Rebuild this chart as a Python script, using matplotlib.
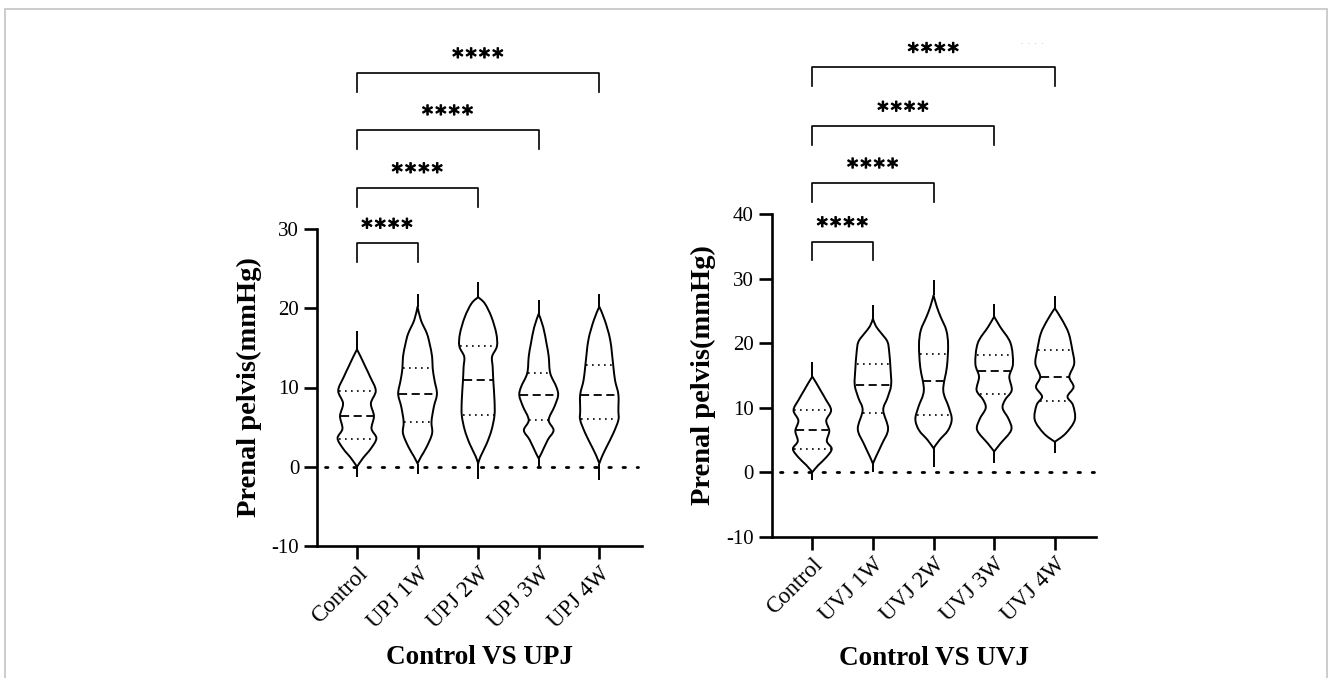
import numpy as np
import matplotlib
matplotlib.use("Agg")
import matplotlib.pyplot as plt
import matplotlib.patheffects as pe
from matplotlib.path import Path
from matplotlib.patches import PathPatch, Rectangle

# ---------------- data ----------------
upj_groups = ["Control", "UPJ 1W", "UPJ 2W", "UPJ 3W", "UPJ 4W"]
uvj_groups = ["Control", "UVJ 1W", "UVJ 2W", "UVJ 3W", "UVJ 4W"]

upj_median = [6.4, 9.2, 10.9, 9.0, 9.1]
upj_q1 = [3.5, 5.7, 6.5, 5.9, 6.0]
upj_q3 = [9.5, 12.4, 15.2, 11.8, 12.8]
upj_min = [-1.3, -0.9, -1.6, 0.0, -1.7]
upj_max = [17.1, 21.8, 23.3, 21.0, 21.8]

uvj_median = [6.5, 13.5, 14.2, 15.7, 14.8]
uvj_q1 = [3.6, 9.2, 8.9, 12.1, 11.1]
uvj_q3 = [9.6, 16.7, 18.3, 18.2, 18.9]
uvj_min = [-1.2, 0.0, 0.8, 1.4, 2.9]
uvj_max = [17.1, 25.9, 29.8, 26.0, 27.3]

# violin density outlines: y levels and half widths (in category units)
control_y = [0.0, 1.1, 2.3, 3.6, 4.8, 6.4, 8.0, 9.6, 11.3, 12.6, 13.9, 14.8]
control_w = [0.0, 0.10, 0.23, 0.32, 0.24, 0.28, 0.23, 0.31, 0.22, 0.14, 0.06, 0.0]

upj1_y = [0.4, 1.3, 2.5, 4.2, 5.7, 7.6, 9.2, 10.9, 12.4, 13.9, 15.5, 16.8, 18.5, 20.2]
upj1_w = [0.0, 0.06, 0.15, 0.24, 0.23, 0.27, 0.32, 0.28, 0.25, 0.24, 0.20, 0.155, 0.055, 0.0]
upj2_y = [0.4, 1.3, 2.9, 4.6, 6.5, 8.4, 10.9, 12.6, 13.9, 15.2, 16.8, 18.9, 20.6, 21.4]
upj2_w = [0.0, 0.04, 0.14, 0.22, 0.27, 0.27, 0.25, 0.24, 0.23, 0.31, 0.30, 0.22, 0.11, 0.0]
upj3_y = [1.05, 1.7, 3.4, 4.6, 5.9, 7.6, 9.0, 10.1, 11.8, 13.9, 15.5, 17.6, 19.3]
upj3_w = [0.0, 0.045, 0.15, 0.245, 0.165, 0.26, 0.32, 0.29, 0.19, 0.165, 0.13, 0.075, 0.0]
upj4_y = [0.4, 1.3, 2.5, 4.2, 5.9, 7.1, 9.1, 10.9, 12.8, 16.0, 18.5, 20.2]
upj4_w = [0.0, 0.045, 0.12, 0.23, 0.315, 0.315, 0.315, 0.26, 0.23, 0.18, 0.09, 0.0]

uvj1_y = [1.3, 2.4, 4.4, 6.7, 9.6, 11.5, 13.5, 16.0, 18.5, 20.2, 21.5, 22.6, 23.8]
uvj1_w = [0.0, 0.05, 0.15, 0.25, 0.17, 0.24, 0.30, 0.29, 0.27, 0.24, 0.14, 0.05, 0.0]
uvj2_y = [3.7, 5.0, 6.5, 8.2, 10.1, 12.7, 16.3, 19.7, 22.0, 24.0, 25.6, 27.4]
uvj2_w = [0.0, 0.10, 0.24, 0.30, 0.25, 0.16, 0.22, 0.24, 0.21, 0.12, 0.055, 0.0]
uvj3_y = [3.2, 4.4, 6.5, 8.2, 9.9, 11.2, 12.7, 14.8, 16.8, 20.0, 22.5, 24.1]
uvj3_w = [0.0, 0.10, 0.28, 0.24, 0.14, 0.18, 0.29, 0.25, 0.31, 0.27, 0.10, 0.0]
uvj4_y = [4.7, 6.0, 8.1, 10.4, 11.7, 13.2, 14.8, 16.8, 18.9, 21.5, 23.6, 25.4]
uvj4_w = [0.0, 0.18, 0.33, 0.30, 0.21, 0.31, 0.24, 0.32, 0.29, 0.23, 0.12, 0.0]

upj_shape_y = [control_y, upj1_y, upj2_y, upj3_y, upj4_y]
upj_shape_w = [control_w, upj1_w, upj2_w, upj3_w, upj4_w]
uvj_shape_y = [control_y, uvj1_y, uvj2_y, uvj3_y, uvj4_y]
uvj_shape_w = [control_w, uvj1_w, uvj2_w, uvj3_w, uvj4_w]

upj_bracket_y = [28.2, 35.2, 42.5, 49.7]
uvj_bracket_y = [35.7, 44.8, 53.6, 62.7]
bracket_pairs = [(0, 1), (0, 2), (0, 3), (0, 4)]
bracket_text = ["****", "****", "****", "****"]

upj_yticks = [-10, 0, 10, 20, 30]
uvj_yticks = [-10, 0, 10, 20, 30, 40]

# ---------------- drawing ----------------
W, H = 1328, 678
fig = plt.figure(figsize=(W / 100, H / 100), dpi=100)
serif = "Liberation Serif"
LW_AX = 1.9
LW_V = 1.4


def smooth_side(xs, ys):
    """Catmull-Rom curve through the given outline points, as cubic Bezier segments."""
    P = np.column_stack([xs, ys])
    n = len(P)
    verts = [tuple(P[0])]
    codes = [Path.MOVETO]
    for i in range(n - 1):
        p0 = P[i - 1] if i > 0 else P[i]
        p1, p2 = P[i], P[i + 1]
        p3 = P[i + 2] if i + 2 < n else P[i + 1]
        c1 = p1 + (p2 - p0) / 6.0
        c2 = p2 - (p3 - p1) / 6.0
        verts += [tuple(c1), tuple(c2), tuple(p2)]
        codes += [Path.CURVE4] * 3
    return verts, codes


def violin(ax, xc, sy, sw, q1, med, q3, vmin, vmax):
    sy = np.asarray(sy, float)
    sw = np.asarray(sw, float)
    rv, rc = smooth_side(xc + sw, sy)
    lv, lc = smooth_side((xc - sw)[::-1], sy[::-1])
    verts = rv + lv[1:] + [rv[0]]
    codes = rc + lc[1:] + [Path.CLOSEPOLY]
    ax.add_patch(PathPatch(Path(verts, codes), facecolor="white", edgecolor="black",
                           lw=LW_V, zorder=3, joinstyle="round"))
    ax.plot([xc, xc], [vmin, sy[0]], color="black", lw=LW_V, zorder=3, solid_capstyle="butt")
    ax.plot([xc, xc], [sy[-1], vmax], color="black", lw=LW_V, zorder=3, solid_capstyle="butt")
    for val, ls, lw in [(q1, (0, (1, 2.6)), 1.2), (q3, (0, (1, 2.6)), 1.2), (med, (0, (4.5, 2.5)), 1.3)]:
        hw = np.interp(val, sy, sw) * 0.95
        ax.plot([xc - hw, xc + hw], [val, val], color="black", lw=lw, ls=ls, zorder=4)


def panel(rect, groups, med, q1, q3, vmin, vmax, shy, shw, yticks, ylim, xlim,
          brackets, leg, xlabel, ylabel_x, xlabel_y):
    ax = fig.add_axes(rect)
    x = np.arange(len(groups))
    for i in range(len(groups)):
        violin(ax, x[i], shy[i], shw[i], q1[i], med[i], q3[i], vmin[i], vmax[i])
    ax.plot([-0.53, 4.64], [0, 0], color="black", lw=2.0, ls=(0, (0.9, 4.2)),
            zorder=2, dash_capstyle="round")
    ax.set_xlim(*xlim)
    ax.set_ylim(*ylim)
    ax.set_yticks(yticks)
    ax.set_yticklabels([str(t) for t in yticks], fontfamily=serif, fontsize=15)
    ax.set_xticks(x)
    ax.set_xticklabels(groups, fontfamily=serif, fontsize=16.5, rotation=45,
                       ha="right", va="top", rotation_mode="anchor")
    for s in ["top", "right"]:
        ax.spines[s].set_visible(False)
    for s in ["left", "bottom"]:
        ax.spines[s].set_linewidth(LW_AX)
    ax.tick_params(axis="both", length=9.5, width=LW_AX, direction="out")
    ax.tick_params(axis="y", pad=3.5)
    ax.tick_params(axis="x", pad=3)
    ax.set_ylabel("Prenal pelvis(mmHg)", fontfamily=serif, fontweight="bold",
                  fontsize=20.5, va="center", ha="center")
    ax.yaxis.set_label_coords(ylabel_x, 0.5)
    ax.set_xlabel(xlabel, fontfamily=serif, fontweight="bold", fontsize=19.5,
                  va="center", ha="center")
    ax.xaxis.set_label_coords(0.5, xlabel_y)
    for (a, b), by, t in zip(bracket_pairs, brackets, bracket_text):
        ax.plot([x[a], x[a], x[b], x[b]], [by - leg, by, by, by - leg], color="black",
                lw=1.2, clip_on=False, zorder=5)
        ax.annotate("\u200a".join(t), xy=((x[a] + x[b]) / 2, by), xytext=(0, 10.5),
                    textcoords="offset points", ha="center", va="center",
                    fontfamily="DejaVu Sans", fontsize=16, annotation_clip=False,
                    path_effects=[pe.withStroke(linewidth=0.9, foreground="black")])
    return ax


def frac(px_l, px_t, px_r, px_b):
    return [px_l / W, 1 - px_b / H, (px_r - px_l) / W, (px_b - px_t) / H]


ax1 = panel(frac(317.3, 229, 641.7, 546), upj_groups, upj_median, upj_q1, upj_q3,
            upj_min, upj_max, upj_shape_y, upj_shape_w, upj_yticks, (-10, 30),
            (-0.655, 4.70), upj_bracket_y, 2.4, "Control VS UPJ", -0.2105, -0.353)
ax2 = panel(frac(771.7, 214, 1096, 536.7), uvj_groups, uvj_median, uvj_q1, uvj_q3,
            uvj_min, uvj_max, uvj_shape_y, uvj_shape_w, uvj_yticks, (-10, 40),
            (-0.67, 4.68), uvj_bracket_y, 2.9, "Control VS UVJ", -0.212, -0.377)

fig.text(1032 / W, 1 - 44 / H, "·  ·  ·  ·", color="#b0b0b0", fontsize=5,
         ha="center", va="center")
fig.patches.append(Rectangle((4.5 / W, -0.02), (1326.5 - 4.5) / W, (H - 9.5) / H + 0.02,
                             transform=fig.transFigure, fill=False, edgecolor="#c4c4c4",
                             lw=1.2))

fig.savefig("out.png", dpi=100, facecolor="white")
